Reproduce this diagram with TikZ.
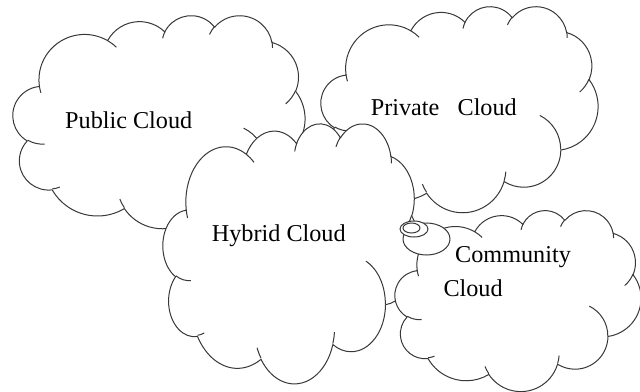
\documentclass[tikz,border=0pt]{standalone}
\usepackage{fontspec}
\setmainfont{Liberation Serif}
\tikzset{
  cloudline/.style={draw=black!78, line width=1pt, line join=round},
  cloudfill/.style={cloudline, fill=white},
  lbl/.style={anchor=base west, inner sep=0pt, font=\fontsize{24.2}{29}\selectfont, text=black},
}
% append an elliptic arc (DrawingML arcTo: visual angles, degrees) to macro #1
\newcommand\cldarc[5]{%
  \pgfmathsetmacro\cldVs{#4}%
  \pgfmathsetmacro\cldVe{(#4)+(#5)}%
  \pgfmathsetmacro\cldTs{atan2((#2)*sin(\cldVs),(#3)*cos(\cldVs))}%
  \pgfmathsetmacro\cldTs{(\cldTs)+360*round(((\cldVs)-(\cldTs))/360)}%
  \pgfmathsetmacro\cldTe{atan2((#2)*sin(\cldVe),(#3)*cos(\cldVe))}%
  \pgfmathsetmacro\cldTe{(\cldTe)+360*round(((\cldVe)-(\cldTe))/360)}%
  \xdef#1{#1 arc[start angle=\cldTs,end angle=\cldTe,x radius=#2,y radius=#3]}%
}
\newcommand\cldcurl[6]{\xdef\crlpath{\crlpath (#1,#2)}\cldarc\crlpath{#3}{#4}{#5}{#6}}
\newcommand\buildcloud{%
  \gdef\cldpath{(390,1437)}%
  \cldarc\cldpath{675.3}{919.0}{-190.4875}{123.7805}%
  \cldarc\cldpath{533.3}{726.7}{-144.1024}{89.9452}%
  \cldarc\cldpath{436.5}{594.5}{-145.8079}{99.7230}%
  \cldarc\cldpath{485.7}{659.5}{-130.9861}{117.2417}%
  \cldarc\cldpath{533.3}{727.3}{-78.7089}{109.0269}%
  \cldarc\cldpath{677.5}{922.0}{-46.2673}{130.2690}%
  \cldarc\cldpath{578.5}{786.7}{0.6250}{114.0333}%
  \cldarc\cldpath{675.2}{921.5}{22.4516}{115.1726}%
  \cldarc\cldpath{772.0}{1054.3}{66.2426}{75.7110}%
  \cldarc\cldpath{436.0}{591.8}{-274.9421}{146.7356}%
  \cldarc\cldpath{434.5}{594.5}{-246.8285}{152.5189}%
  \xdef\cldpath{\cldpath -- cycle}%
  \gdef\crlpath{}%
  \cldcurl{469.3}{2617.7}{434.5}{594.5}{86.742}{26.4295}%
  \cldcurl{692.8}{3489.9}{436.0}{591.8}{73.6105}{11.4475}%
  \cldcurl{1647.8}{3909.0}{675.2}{921.5}{137.6242}{14.0811}%
  \cldcurl{2882.7}{3475.1}{675.2}{921.5}{6.4533}{15.9984}%
  \cldcurl{3412.9}{2295.4}{578.5}{786.7}{-70.2924}{70.9174}%
  \cldcurl{4179.8}{1535.4}{533.3}{727.3}{30.3180}{27.7515}%
  \cldcurl{3832.4}{542.6}{485.7}{659.5}{-13.7443}{14.8589}%
  \cldcurl{2907.8}{395.2}{485.7}{659.5}{-149.1815}{18.1954}%
  \cldcurl{2214.1}{472.0}{436.5}{594.5}{-163.4943}{17.6864}%
  \cldcurl{1400.0}{519.2}{675.3}{919.0}{-66.7070}{12.3194}%
  \cldcurl{412.7}{1578.9}{675.3}{919.0}{157.6544}{11.8582}%
}
% cloud in box: left x, top y, width, height (pixels, y down)
\newcommand\drawcloud[4]{%
  \pgfmathsetmacro\cldsx{(#3)/4320}\pgfmathsetmacro\cldsy{(#4)/4320}%
  \begin{scope}[shift={(#1,#2)}, x=\cldsx pt, y=-\cldsy pt]
    \edef\cldtmp{\noexpand\path[cloudfill] \cldpath;}\cldtmp
    \edef\cldtmp{\noexpand\path[cloudline] \crlpath;}\cldtmp
  \end{scope}}
\begin{document}
\begin{tikzpicture}[x=1pt, y=-1pt]
  \buildcloud
  \useasboundingbox (0,0) rectangle (640,391);
  \drawcloud{13}{15}{292}{213}
  \node[lbl] (pub) at (65,128) {Public Cloud};
  \drawcloud{321}{6}{277}{206}
  \node[lbl] (pri) at (370.7,115) {Private\ \ \ Cloud};
  \drawcloud{163}{123}{257}{260}
  \node[lbl] (hyb) at (211.7,241.7) {Hybrid Cloud};
  \drawcloud{395}{210}{246}{181}
  \path[cloudfill] (426.5,239) ellipse [x radius=23.5, y radius=16];
  \path[cloudfill] (414,229) ellipse [x radius=14, y radius=8];
  \path[cloudfill] (411.5,228) ellipse [x radius=8.5, y radius=5];
  \node[lbl] (com1) at (455,262.7) {Community};
  \node[lbl] (com2) at (443.3,296) {Cloud};
\end{tikzpicture}
\end{document}
